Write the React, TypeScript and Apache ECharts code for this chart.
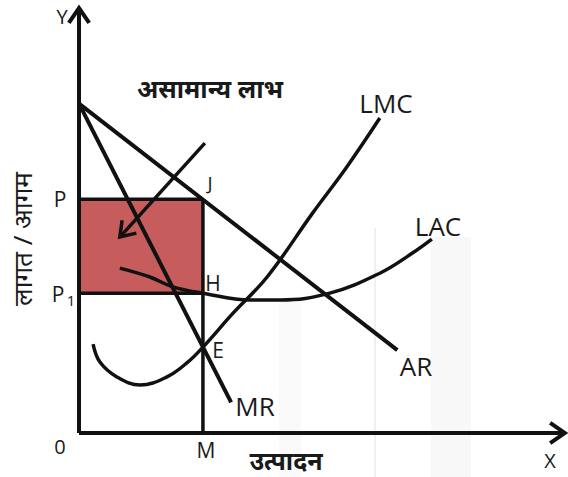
import React, { useEffect, useRef } from "react";
import * as echarts from "echarts";

// Economic diagram values (quantity on x, cost/revenue on y), axis range 0..10
const M_QTY = 2.55;
const P_PRICE = 5.5;
const P1_COST = 3.29;
const arLine = [[0, 7.75], [6.55, 1.95]];
const mrLine = [[0, 7.75], [3.13, 0.72]];
const lmcCurve = [
  [0.29, 2.09], [0.43, 1.67], [0.78, 1.32], [1.26, 1.13], [1.81, 1.32],
  [2.22, 1.65], [2.55, 2.02], [3.17, 2.82], [3.87, 3.67], [4.81, 5.18],
  [5.51, 6.26], [6.19, 7.41],
];
const lacCurve = [
  [0.84, 3.88], [1.46, 3.67], [1.93, 3.44], [2.55, 3.29], [3.52, 3.13],
  [4.14, 3.13], [5.16, 3.29], [6.19, 3.76], [6.87, 4.24], [7.26, 4.56],
];
const profitArrow = [2.59, 6.82, 0.84, 4.61];
const axisArrows = [[0, 0, 10, 0], [0, 0, 0, 10]];
const profitRect = [[0, P1_COST, M_QTY, P_PRICE]];

const LATIN = "'Open Sans', 'Noto Sans', sans-serif";
const DEVA = "'Noto Sans', 'Noto Sans Devanagari', sans-serif";

function arrowRender(lineWidth: number, headLen: number, headAng: number) {
  return (params: any, api: any) => {
    const p1 = api.coord([api.value(0), api.value(1)]);
    const p2 = api.coord([api.value(2), api.value(3)]);
    const ang = Math.atan2(p2[1] - p1[1], p2[0] - p1[0]);
    const w1 = [p2[0] - headLen * Math.cos(ang - headAng), p2[1] - headLen * Math.sin(ang - headAng)];
    const w2 = [p2[0] - headLen * Math.cos(ang + headAng), p2[1] - headLen * Math.sin(ang + headAng)];
    return {
      type: "group",
      children: [
        { type: "line", shape: { x1: p1[0], y1: p1[1], x2: p2[0], y2: p2[1] }, style: { stroke: "#111", lineWidth } },
        { type: "polyline", shape: { points: [w1, p2, w2] }, style: { stroke: "#111", fill: null, lineWidth, lineJoin: "miter" } },
      ],
    };
  };
}

function txt(text: string, x: number, y: number, size: number, opts: any = {}) {
  return {
    type: "text",
    x,
    y,
    z: 100,
    rotation: opts.rotation || 0,
    style: {
      text,
      fontSize: size,
      fontFamily: opts.family || LATIN,
      fontWeight: opts.bold ? "bold" : "normal",
      fill: "#1a1a1a",
      align: "center",
      verticalAlign: "middle",
    },
  };
}

export default function App() {
  const ref = useRef<HTMLDivElement>(null);
  useEffect(() => {
    if (!ref.current) return;
    const chart = echarts.init(ref.current, null, { renderer: "svg" });
    const lineStyle = { color: "#111", width: 3.5 };
    const plain = (data: number[][], smooth: any = false, width = 3.5) => ({
      type: "line",
      data,
      smooth,
      symbol: "none",
      clip: false,
      lineStyle: { ...lineStyle, width },
      z: 5,
    });
    chart.setOption({
      animation: false,
      backgroundColor: "#ffffff",
      grid: { left: 79, top: 8, width: 486, height: 425 },
      xAxis: { type: "value", min: 0, max: 10, show: false },
      yAxis: { type: "value", min: 0, max: 10, show: false },
      graphic: [
        { type: "rect", z: -10, shape: { x: 431, y: 237, width: 40, height: 240 }, style: { fill: "#f8f8f8" } },
        { type: "rect", z: -10, shape: { x: 279, y: 300, width: 22, height: 177 }, style: { fill: "#f9f9f9" } },
        { type: "rect", z: -10, shape: { x: 374, y: 228, width: 2, height: 249 }, style: { fill: "#f0f0f0" } },
        txt("Y", 62, 16, 20),
        txt("X", 550, 460, 20),
        txt("0", 60, 446, 20),
        txt("M", 206, 450, 21),
        txt("P", 60, 199, 21),
        txt("P", 58, 294, 21),
        txt("1", 71, 300, 15),
        txt("J", 210, 183, 19),
        txt("H", 213, 283, 21),
        txt("E", 218, 350, 21),
        txt("MR", 255, 406, 26),
        txt("AR", 416, 366, 26),
        txt("LAC", 438, 226, 26),
        txt("LMC", 386, 103, 26),
        txt("असामान्य लाभ", 210, 88, 25, { bold: true, family: DEVA }),
        txt("उत्पादन", 286, 460, 25, { bold: true, family: DEVA }),
        txt("लागत / आगम", 22, 239, 26, { family: DEVA, rotation: Math.PI / 2 }),
      ],
      series: [
        {
          type: "custom",
          clip: false,
          z: 2,
          data: profitRect,
          renderItem: (params: any, api: any) => {
            const a = api.coord([api.value(0), api.value(1)]);
            const b = api.coord([api.value(2), api.value(3)]);
            return {
              type: "rect",
              shape: { x: a[0], y: b[1], width: b[0] - a[0], height: a[1] - b[1] },
              style: { fill: "#c65c5c" },
            };
          },
        },
        plain([[0, P_PRICE], [M_QTY, P_PRICE]]),
        plain([[0, P1_COST], [M_QTY, P1_COST]]),
        plain([[M_QTY, 0], [M_QTY, P_PRICE]]),
        plain(arLine, false, 4),
        plain(mrLine, false, 4),
        plain(lmcCurve, 0.4),
        plain(lacCurve, 0.4),
        {
          type: "custom",
          clip: false,
          z: 6,
          data: axisArrows,
          renderItem: arrowRender(4, 18, 0.6),
        },
        {
          type: "custom",
          clip: false,
          z: 6,
          data: [profitArrow],
          renderItem: arrowRender(3.5, 17, 0.6),
        },
      ],
    });
    return () => chart.dispose();
  }, []);
  return (
    <div
      ref={ref}
      style={{ position: "fixed", left: 0, top: 0, width: 568, height: 477 }}
    />
  );
}
